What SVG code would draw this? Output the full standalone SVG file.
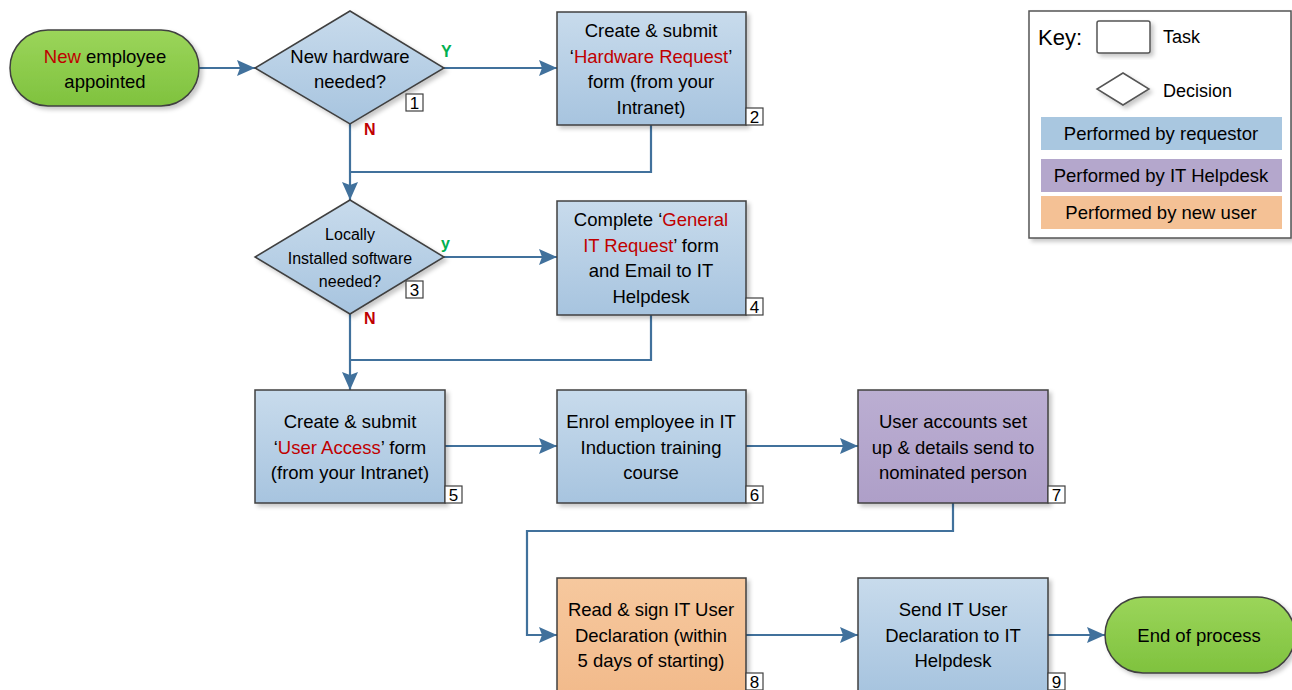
<svg xmlns="http://www.w3.org/2000/svg" width="1292" height="690" viewBox="0 0 1292 690">
<defs>
<linearGradient id="gBlue" x1="0" y1="0" x2="0" y2="1"><stop offset="0" stop-color="#c8dbec"/><stop offset="1" stop-color="#a7c4df"/></linearGradient>
<linearGradient id="gPurple" x1="0" y1="0" x2="0" y2="1"><stop offset="0" stop-color="#bbaed2"/><stop offset="1" stop-color="#ae9fc8"/></linearGradient>
<linearGradient id="gOrange" x1="0" y1="0" x2="0" y2="1"><stop offset="0" stop-color="#f6c89e"/><stop offset="1" stop-color="#f2bb8c"/></linearGradient>
<linearGradient id="gGreen" x1="0" y1="0" x2="0" y2="1"><stop offset="0" stop-color="#9bd55a"/><stop offset="1" stop-color="#7fc23e"/></linearGradient>
<filter id="sh" x="-10%" y="-10%" width="130%" height="130%"><feDropShadow dx="3" dy="3" stdDeviation="2" flood-color="#000" flood-opacity="0.22"/></filter>
<marker id="arr" viewBox="0 0 18 16" refX="18" refY="8" markerWidth="18" markerHeight="16" markerUnits="userSpaceOnUse" orient="auto"><path d="M0,0 L18,8 L0,16 L3,8 z" fill="#41719c"/></marker>
</defs>
<style>
text{font-family:"Liberation Sans",Arial,sans-serif;fill:#000;}
.t{font-size:18.5px;text-anchor:middle;}
.ts{font-size:16px;text-anchor:middle;}
.r{fill:#c00000;}
.box{stroke:#404040;stroke-width:1.5;}
.num{fill:#fff;stroke:#404040;stroke-width:1.2;}
.nt{font-size:17px;text-anchor:middle;}
.c{fill:none;stroke:#41719c;stroke-width:2.2;}
.y{font-size:16px;font-weight:bold;fill:#00b050;}
.n{font-size:16px;font-weight:bold;fill:#c00000;}
.k{font-size:18px;}
</style>

<g id="connectors">
<path class="c" d="M199,68 H255" marker-end="url(#arr)"/>
<path class="c" d="M444,68 H557" marker-end="url(#arr)"/>
<path class="c" d="M651,125 V172 H350"/>
<path class="c" d="M350,124 V200" marker-end="url(#arr)"/>
<path class="c" d="M444,257 H557" marker-end="url(#arr)"/>
<path class="c" d="M651,315 V360 H350"/>
<path class="c" d="M350,314 V390" marker-end="url(#arr)"/>
<path class="c" d="M445,446 H557" marker-end="url(#arr)"/>
<path class="c" d="M746,446 H858" marker-end="url(#arr)"/>
<path class="c" d="M953,503 V531 H527 V635 H557" marker-end="url(#arr)"/>
<path class="c" d="M746,635 H858" marker-end="url(#arr)"/>
<path class="c" d="M1048,635 H1105" marker-end="url(#arr)"/>
<text class="y" x="441" y="57">Y</text>
<text class="n" x="364" y="135">N</text>
<text class="y" x="441" y="249">y</text>
<text class="n" x="364" y="324">N</text>
</g>

<g id="start">
<rect class="box" x="10" y="30" width="189" height="76" rx="38" fill="url(#gGreen)" filter="url(#sh)"/>
<text class="t" x="105" y="63"><tspan class="r">New</tspan> employee</text>
<text class="t" x="105" y="88">appointed</text>
</g>

<g id="d1">
<path class="box" d="M350,11 L444,68 L350,124 L255,68 z" fill="url(#gBlue)" filter="url(#sh)"/>
<text class="t" x="350" y="63">New hardware</text>
<text class="t" x="350" y="88">needed?</text>
<rect class="num" x="406" y="94" width="17" height="17"/>
<text class="nt" x="414.5" y="109">1</text>
</g>

<g id="b2">
<rect class="box" x="557" y="12" width="189" height="113" fill="url(#gBlue)" filter="url(#sh)"/>
<text class="t" x="651" y="37">Create &amp; submit</text>
<text class="t" x="651" y="62.5">‘<tspan class="r">Hardware Request</tspan>’</text>
<text class="t" x="651" y="88">form (from your</text>
<text class="t" x="651" y="113.5">Intranet)</text>
<rect class="num" x="746" y="108" width="17" height="17"/>
<text class="nt" x="754.5" y="123">2</text>
</g>

<g id="d2">
<path class="box" d="M350,200 L444,257 L350,314 L255,257 z" fill="url(#gBlue)" filter="url(#sh)"/>
<text class="ts" x="350" y="240">Locally</text>
<text class="ts" x="350" y="263.5">Installed software</text>
<text class="ts" x="350" y="287">needed?</text>
<rect class="num" x="406" y="281" width="17" height="17"/>
<text class="nt" x="414.5" y="296">3</text>
</g>

<g id="b4">
<rect class="box" x="557" y="201" width="189" height="114" fill="url(#gBlue)" filter="url(#sh)"/>
<text class="t" x="651" y="226">Complete ‘<tspan class="r">General</tspan></text>
<text class="t" x="651" y="251.5"><tspan class="r">IT Request</tspan>’ form</text>
<text class="t" x="651" y="277">and Email to IT</text>
<text class="t" x="651" y="302.5">Helpdesk</text>
<rect class="num" x="746" y="298" width="17" height="17"/>
<text class="nt" x="754.5" y="313">4</text>
</g>

<g id="b5">
<rect class="box" x="255" y="390" width="190" height="113" fill="url(#gBlue)" filter="url(#sh)"/>
<text class="t" x="350" y="428">Create &amp; submit</text>
<text class="t" x="350" y="453.5">‘<tspan class="r">User Access</tspan>’ form</text>
<text class="t" x="350" y="479">(from your Intranet)</text>
<rect class="num" x="445" y="486" width="17" height="17"/>
<text class="nt" x="453.5" y="501">5</text>
</g>

<g id="b6">
<rect class="box" x="557" y="390" width="189" height="113" fill="url(#gBlue)" filter="url(#sh)"/>
<text class="t" x="651" y="428">Enrol employee in IT</text>
<text class="t" x="651" y="453.5">Induction training</text>
<text class="t" x="651" y="479">course</text>
<rect class="num" x="746" y="486" width="17" height="17"/>
<text class="nt" x="754.5" y="501">6</text>
</g>

<g id="b7">
<rect class="box" x="858" y="390" width="190" height="113" fill="url(#gPurple)" filter="url(#sh)"/>
<text class="t" x="953" y="428">User accounts set</text>
<text class="t" x="953" y="453.5">up &amp; details send to</text>
<text class="t" x="953" y="479">nominated person</text>
<rect class="num" x="1048" y="486" width="17" height="17"/>
<text class="nt" x="1056.5" y="501">7</text>
</g>

<g id="b8">
<rect class="box" x="557" y="578" width="189" height="113" fill="url(#gOrange)" filter="url(#sh)"/>
<text class="t" x="651" y="616">Read &amp; sign IT User</text>
<text class="t" x="651" y="641.5">Declaration (within</text>
<text class="t" x="651" y="667">5 days of starting)</text>
<rect class="num" x="746" y="673" width="17" height="17"/>
<text class="nt" x="754.5" y="688">8</text>
</g>

<g id="b9">
<rect class="box" x="858" y="578" width="190" height="113" fill="url(#gBlue)" filter="url(#sh)"/>
<text class="t" x="953" y="616">Send IT User</text>
<text class="t" x="953" y="641.5">Declaration to IT</text>
<text class="t" x="953" y="667">Helpdesk</text>
<rect class="num" x="1048" y="673" width="17" height="17"/>
<text class="nt" x="1056.5" y="688">9</text>
</g>

<g id="end">
<rect class="box" x="1105" y="597" width="190" height="76" rx="38" fill="url(#gGreen)" filter="url(#sh)"/>
<text class="t" x="1199" y="642">End of process</text>
</g>

<g id="key">
<rect x="1029" y="11" width="262" height="227" fill="#fff" stroke="#555" stroke-width="1.5" filter="url(#sh)"/>
<text x="1038" y="45" style="font-size:22px">Key:</text>
<rect x="1097" y="21" width="53" height="32" rx="2" fill="#fff" stroke="#555" stroke-width="1.5" filter="url(#sh)"/>
<text class="k" x="1163" y="43">Task</text>
<path d="M1123,73 L1149,89 L1123,105 L1097,89 z" fill="#fff" stroke="#555" stroke-width="1.5" filter="url(#sh)"/>
<text class="k" x="1163" y="97">Decision</text>
<rect x="1041" y="117" width="241" height="33" fill="#a9c7e0"/>
<text class="t" x="1161" y="140">Performed by requestor</text>
<rect x="1041" y="159" width="241" height="33" fill="#b4a7cc"/>
<text class="t" x="1161" y="182">Performed by IT Helpdesk</text>
<rect x="1041" y="196" width="241" height="33" fill="#f4c195"/>
<text class="t" x="1161" y="219">Performed by new user</text>
</g>
</svg>
